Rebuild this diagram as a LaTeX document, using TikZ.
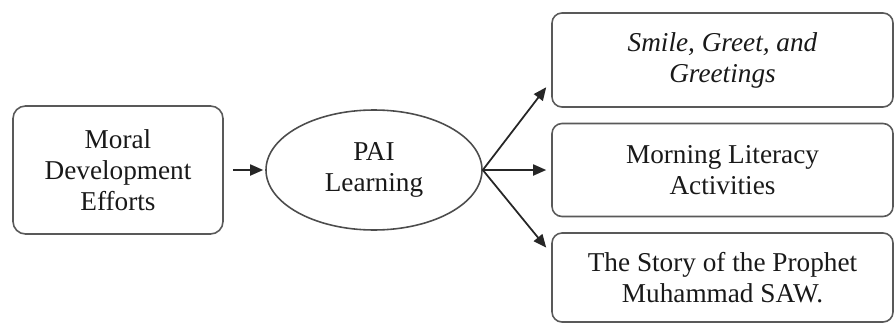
\documentclass[tikz,border=0pt]{standalone}
\usepackage{fontspec}
\setmainfont{Liberation Serif}
\usetikzlibrary{calc,shapes.geometric,arrows.meta}
\tikzset{
  effortbox/.style={draw=black!65, line width=0.9pt, rounded corners=0.25cm, align=center,
    minimum width=4.2cm, minimum height=2.56cm, text=black!90},
  actbox/.style={draw=black!65, line width=0.9pt, rounded corners=0.2cm, align=center,
    minimum width=6.82cm, text=black!90},
  learnoval/.style={draw=black!70, line width=0.9pt, ellipse, align=center,
    minimum width=4.32cm, minimum height=2.4cm, text=black!90}
}
\begin{document}
\begin{tikzpicture}[>={Triangle[length=0.26cm,width=0.22cm]}, font=\fontsize{15.5}{17.6}\selectfont]
                \useasboundingbox (0,0) rectangle (17.9,6.46);
                \node [effortbox] (moral) at (2.36,3.06) {Moral\\Development\\Efforts};
                \node [learnoval] (pai) at (7.48,3.06) {PAI\\Learning};
                
                \node [actbox, minimum height=1.88cm] (smile) at (14.45,5.26) {\textit{Smile, Greet, and}\\\textit{Greetings}};
                \node [actbox, minimum height=1.86cm] (literacy) at (14.45,3.06) {Morning Literacy\\Activities};
                \node [actbox, minimum height=1.78cm] (story) at (14.45,0.91) {The Story of the Prophet\\Muhammad SAW.};
                
                \path [->, line width=1pt, black!85] (moral) edge [shorten <=0.18cm, shorten >=0.04cm] (pai)
                          (pai.east) edge ([xshift=-0.1cm]$(smile.west)!0.57!(smile.south west)$)
                                edge ([xshift=-0.1cm]literacy.west)
                                edge ([xshift=-0.1cm]$(story.west)!0.66!(story.north west)$)
                ;
            \end{tikzpicture}
\end{document}
